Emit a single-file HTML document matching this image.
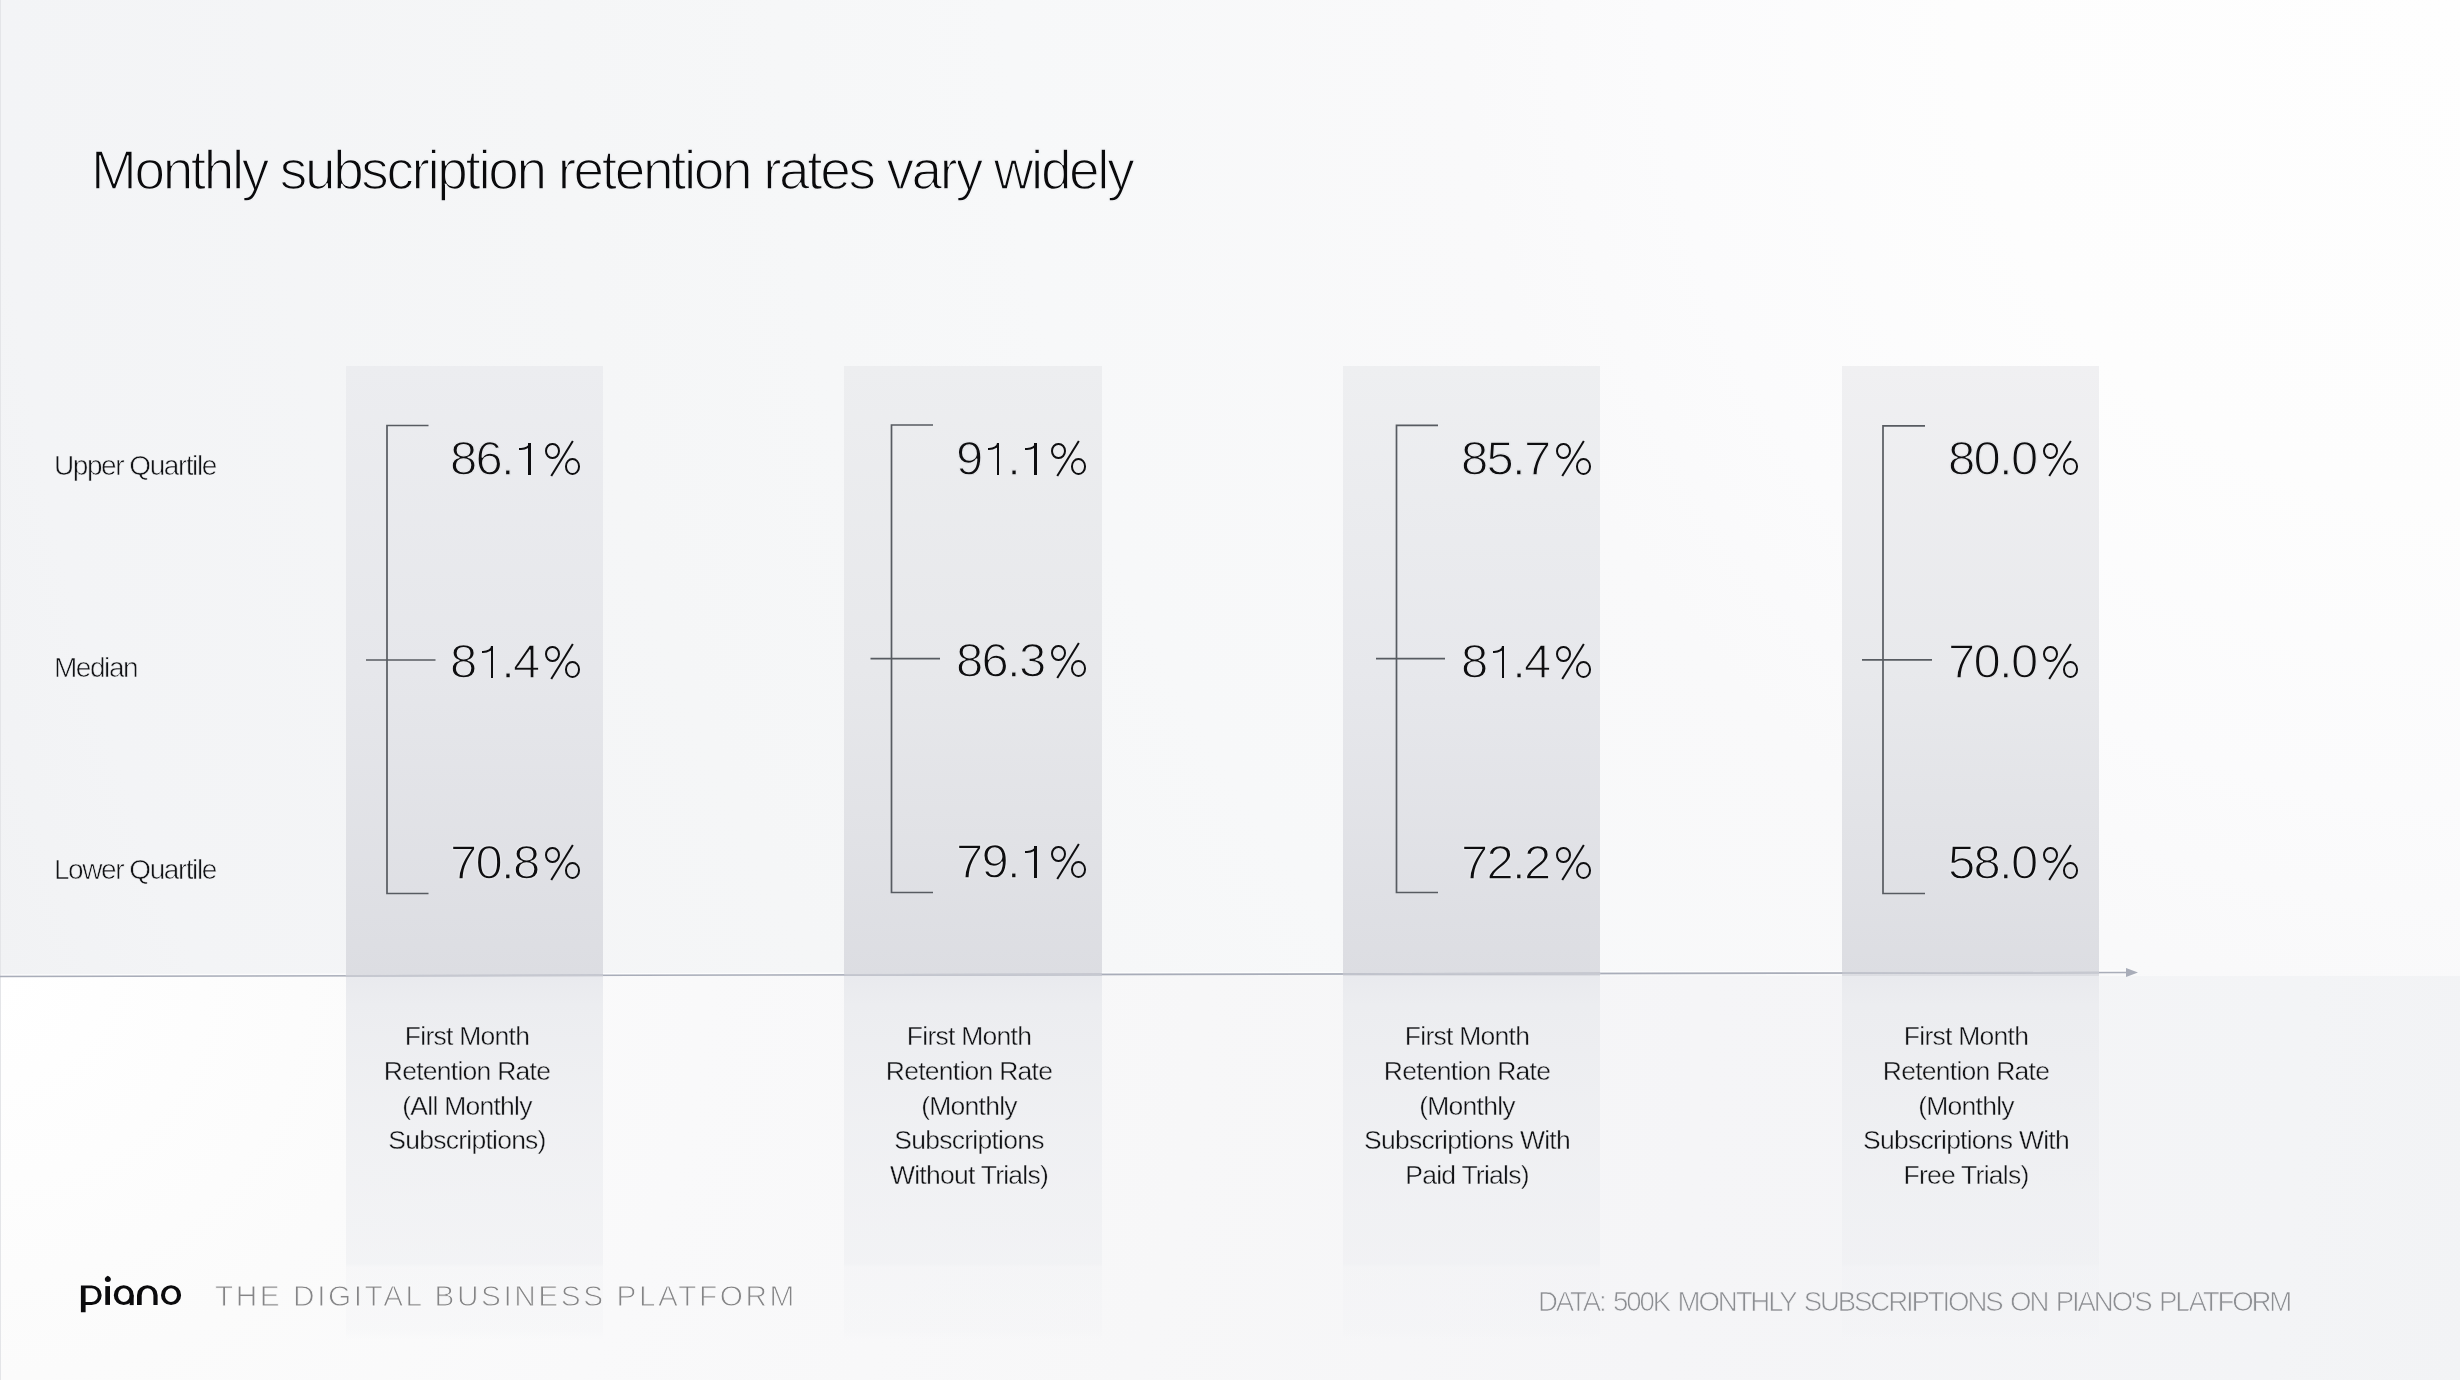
<!DOCTYPE html>
<html><head><meta charset="utf-8">
<style>
html,body{margin:0;padding:0}
body{width:2460px;height:1380px;position:relative;overflow:hidden;font-family:"Liberation Sans",sans-serif;background:#f7f7f8}
.abs{position:absolute}
#bgtop{left:0;top:0;width:2460px;height:976px;background:radial-gradient(circle at 100% 0%,#fefefe 0px,#fdfdfd 500px,#fbfbfc 800px,#f9f9fa 1000px,#f7f8f9 1450px,#f5f6f7 1900px,#f3f4f6 2460px,#f1f2f4 2650px)}
#bgbot{left:0;top:976px;width:2460px;height:404px;background:radial-gradient(circle at 0% 0%,#ffffff 0px,#fdfdfd 200px,#fbfbfb 400px,#f9f9fa 700px,#f7f7f8 1200px,#f5f5f7 1700px,#f3f4f6 2300px,#f2f3f5 2500px)}
#edge{left:0;top:0;width:1px;height:1380px;background:#e4e5e8}
.bar{top:366px;height:610px;width:257px;background:linear-gradient(180deg,#ecedf0 0%,#e6e7eb 50%,#dcdde2 100%)}
.refl{top:976px;height:364px;width:257px;background:linear-gradient(180deg,#e9eaee 0%,#ecedf0 8%,rgba(237,238,241,0.8) 40%,rgba(238,239,242,0.62) 79%,rgba(239,240,243,0.36) 80%,rgba(240,241,244,0.28) 97%,rgba(240,241,244,0) 100%)}
.t{position:absolute;white-space:nowrap;line-height:1;color:#111;will-change:transform}
.num{font-size:49px;letter-spacing:-1.7px;color:#0e0e10;-webkit-text-stroke:1.3px #e7e8eb}
.lab{font-size:28px;letter-spacing:-1.45px;color:#111215;-webkit-text-stroke:0.6px #f2f3f5}
.cat{font-size:26.5px;letter-spacing:-0.75px;line-height:34.8px;text-align:center;color:#111215;width:300px;-webkit-text-stroke:0.4px #eff0f2}
.one{position:relative;color:transparent;-webkit-text-stroke-color:transparent}
.one::before{content:"";position:absolute;left:15.1px;top:12.1px;width:2.5px;height:32px;background:#0e0e10}
.one::after{content:"";position:absolute;left:6.2px;top:12.1px;width:9.4px;height:5.2px;border-bottom:2.3px solid #0e0e10;border-right:2.3px solid #0e0e10;border-bottom-right-radius:10px 7px}
.pc{position:relative;color:transparent;-webkit-text-stroke-color:transparent}
.pc::before{content:"";position:absolute;left:6.0px;top:11.7px;width:15.2px;height:16.7px;box-sizing:border-box;border:2.4px solid #0e0e10;border-radius:50%}
.pc::after{content:"";position:absolute;left:26.6px;top:27.4px;width:14.9px;height:16.7px;box-sizing:border-box;border:2.4px solid #0e0e10;border-radius:50%}
.pc i{position:absolute;left:22.6px;top:7.0px;width:2.1px;height:41.2px;background:#0e0e10;transform:rotate(31.8deg)}
</style></head>
<body>
<div id="bgtop" class="abs"></div>
<div id="bgbot" class="abs"></div>
<div id="edge" class="abs"></div>

<div class="abs bar" style="background:linear-gradient(180deg,#ecedf0 0%,#e6e7eb 50%,#dcdde2 100%);left:345.6px;width:257.4px"></div>
<div class="abs bar" style="background:linear-gradient(180deg,#edeef0 0%,#e7e8eb 50%,#dcdde2 100%);left:844.2px;width:257.6px"></div>
<div class="abs bar" style="background:linear-gradient(180deg,#eeeff1 0%,#e7e8ec 50%,#dcdde2 100%);left:1342.7px;width:257.7px"></div>
<div class="abs bar" style="background:linear-gradient(180deg,#f0f0f2 0%,#e8e9ec 50%,#dcdde2 100%);left:1842.2px;width:256.8px"></div>
<div class="abs refl" style="left:345.6px;width:257.4px"></div>
<div class="abs refl" style="left:844.2px;width:257.6px"></div>
<div class="abs refl" style="left:1342.7px;width:257.7px"></div>
<div class="abs refl" style="left:1842.2px;width:256.8px"></div>

<svg class="abs" style="left:0;top:0" width="2460" height="1380" viewBox="0 0 2460 1380">
  <line x1="1.0" y1="974.80" x2="345.6" y2="974.15" stroke="#ffffff" stroke-opacity="0.7" stroke-width="1.2"/>
  <line x1="603.0" y1="973.67" x2="844.2" y2="973.21" stroke="#ffffff" stroke-opacity="0.7" stroke-width="1.2"/>
  <line x1="1101.8" y1="972.73" x2="1342.7" y2="972.28" stroke="#ffffff" stroke-opacity="0.7" stroke-width="1.2"/>
  <line x1="1600.4" y1="971.79" x2="1842.2" y2="971.34" stroke="#ffffff" stroke-opacity="0.7" stroke-width="1.2"/>
  <line x1="2099.0" y1="970.85" x2="2126.0" y2="970.80" stroke="#ffffff" stroke-opacity="0.7" stroke-width="1.2"/>
  <line x1="0" y1="976.5" x2="2128" y2="972.5" stroke="#a9adb9" stroke-width="1.6"/>
  <polygon points="2126,968 2138,972.5 2126,977" fill="#a9adb9"/>
  <line x1="345.6" y1="975.85" x2="603.0" y2="975.37" stroke="#c6c8d0" stroke-width="1.6"/>
  <line x1="844.2" y1="974.91" x2="1101.8" y2="974.43" stroke="#c6c8d0" stroke-width="1.6"/>
  <line x1="1342.7" y1="973.98" x2="1600.4" y2="973.49" stroke="#c6c8d0" stroke-width="1.6"/>
  <line x1="1842.2" y1="973.04" x2="2099.0" y2="972.55" stroke="#c6c8d0" stroke-width="1.6"/>
  <g stroke="#575b61" stroke-width="1.7" fill="none">
    <path d="M428.5,425.5 H387 V893.5 H428.5"/>
    <path d="M366,660 H435.5"/>
    <path d="M933,425 H891.5 V892.5 H933"/>
    <path d="M870.5,658.7 H940"/>
    <path d="M1438,425.3 H1396.5 V892.5 H1438"/>
    <path d="M1376,658.7 H1445"/>
    <path d="M1925,425.8 H1883 V893.5 H1925"/>
    <path d="M1862,659.8 H1932"/>
  </g>
</svg>

<div class="t" style="left:91px;top:142.5px;font-size:55px;letter-spacing:-2.38px;color:#0a0a0c;-webkit-text-stroke:1.5px #f3f4f6">Monthly subscription retention rates vary widely</div>

<div class="t lab" style="left:54.2px;top:452.1px">Upper Quartile</div>
<div class="t lab" style="left:54.2px;top:654.1px">Median</div>
<div class="t lab" style="left:54.2px;top:856.1px">Lower Quartile</div>

<div class="t num" style="left:450.0px;top:434.2px">86.<span class="one">1</span><span class="pc">%<i></i></span></div>
<div class="t num" style="left:450.0px;top:636.8px">8<span class="one">1</span>.4<span class="pc">%<i></i></span></div>
<div class="t num" style="left:450.0px;top:837.9px">70.8<span class="pc">%<i></i></span></div>

<div class="t num" style="left:956.0px;top:433.8px">9<span class="one">1</span>.<span class="one">1</span><span class="pc">%<i></i></span></div>
<div class="t num" style="left:956.0px;top:635.7px">86.3<span class="pc">%<i></i></span></div>
<div class="t num" style="left:956.0px;top:836.8px">79.<span class="one">1</span><span class="pc">%<i></i></span></div>

<div class="t num" style="left:1461.0px;top:433.8px">85.7<span class="pc">%<i></i></span></div>
<div class="t num" style="left:1461.0px;top:636.8px">8<span class="one">1</span>.4<span class="pc">%<i></i></span></div>
<div class="t num" style="left:1461.0px;top:837.9px">72.2<span class="pc">%<i></i></span></div>

<div class="t num" style="left:1947.5px;top:433.8px">80.0<span class="pc">%<i></i></span></div>
<div class="t num" style="left:1947.5px;top:636.8px">70.0<span class="pc">%<i></i></span></div>
<div class="t num" style="left:1947.5px;top:837.9px">58.0<span class="pc">%<i></i></span></div>

<div class="t cat" style="left:317px;top:1019.3px">First Month<br>Retention Rate<br>(All Monthly<br>Subscriptions)</div>
<div class="t cat" style="left:819px;top:1019.3px">First Month<br>Retention Rate<br>(Monthly<br>Subscriptions<br>Without Trials)</div>
<div class="t cat" style="left:1317px;top:1019.3px">First Month<br>Retention Rate<br>(Monthly<br>Subscriptions With<br>Paid Trials)</div>
<div class="t cat" style="left:1816px;top:1019.3px">First Month<br>Retention Rate<br>(Monthly<br>Subscriptions With<br>Free Trials)</div>

<svg class="abs" style="left:0;top:1260px" width="200" height="60" viewBox="0 1260 200 60">
  <g fill="#0b0b0d" fill-rule="evenodd">
    <path d="M80.9,1312.3 V1285.4 H91.7 A10,9.85 0 0 1 91.7,1305.1 H85.6 V1312.3 Z M85.6,1288.3 V1302 H91.7 A6.2,6.85 0 0 0 91.7,1288.3 Z"/>
    <rect x="105.3" y="1286.1" width="4.7" height="18.8"/>
    
    <path d="M113.8,1295.15 A9.95,9.95 0 0 1 133.7,1295.15 A9.95,9.95 0 0 1 113.8,1295.15 Z M118,1295.15 A5.85,6.85 0 0 0 129.7,1295.15 A5.85,6.85 0 0 0 118,1295.15 Z"/>
    <rect x="129.7" y="1295.15" width="4" height="9.95"/>
    <path d="M107.85,1275.7 C109.6,1276.9 110.9,1277.7 110.9,1279 A3.05,3.05 0 0 1 104.8,1279 C104.8,1277.7 106.1,1276.9 107.85,1275.7 Z"/>
    <path d="M137,1304.9 V1295.15 A10.3,9.95 0 0 1 157.6,1295.15 V1304.9 H153.4 V1295.15 A5.85,6.85 0 0 0 141.7,1295.15 V1304.9 Z"/>
    <path d="M161,1295.15 A10.05,9.95 0 0 1 181.1,1295.15 A10.05,9.95 0 0 1 161,1295.15 Z M165,1295.15 A6,6.85 0 0 0 177,1295.15 A6,6.85 0 0 0 165,1295.15 Z"/>
  </g>
</svg>

<div class="t" style="left:215px;top:1281px;font-size:29.8px;letter-spacing:2.56px;color:#858587;-webkit-text-stroke:0.9px #fbfbfb">THE DIGITAL BUSINESS PLATFORM</div>
<div class="t" style="left:1538px;top:1288px;font-size:27.6px;letter-spacing:-2.12px;word-spacing:3px;color:#8c8e92;-webkit-text-stroke:0.7px #f6f6f8">DATA: 500K MONTHLY SUBSCRIPTIONS ON PIANO'S PLATFORM</div>
</body></html>
